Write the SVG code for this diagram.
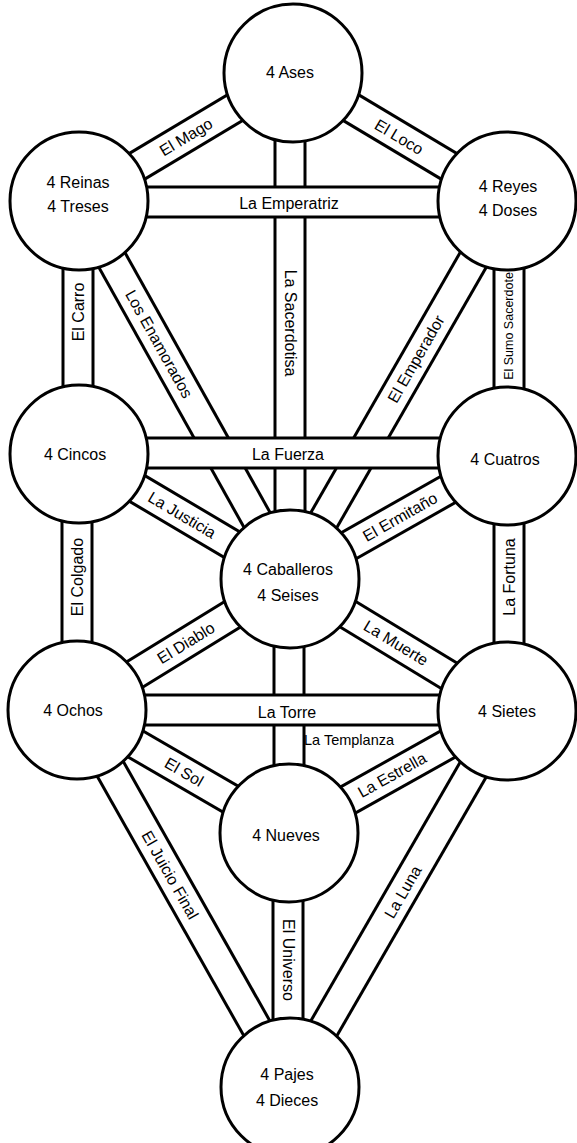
<svg xmlns="http://www.w3.org/2000/svg" width="577" height="1143" viewBox="0 0 577 1143">
<style>
.bo{stroke:#000;stroke-width:33;fill:none}
.bi{stroke:#fff;stroke-width:27;fill:none}
.node circle{fill:#fff;stroke:#000;stroke-width:3}
text{font-family:"Liberation Sans",Arial,sans-serif;font-size:16px;fill:#000;text-anchor:middle;dominant-baseline:central}
.small{font-size:12.5px}
.tp{font-size:14.5px;text-anchor:start}
</style>
<rect width="577" height="1143" fill="#fff"/>
<g id="connectors">
  <g id="p-mago"><line class="bo" x1="79" y1="201" x2="293" y2="73"/><line class="bi" x1="79" y1="201" x2="293" y2="73"/><text x="186" y="137" transform="rotate(-31 186 137)">El Mago</text></g>
  <g id="p-loco"><line class="bo" x1="293" y1="73" x2="507" y2="201"/><line class="bi" x1="293" y1="73" x2="507" y2="201"/><text x="399" y="137" transform="rotate(30.8 399 137)">El Loco</text></g>
  <g id="p-sacerdotisa"><line class="bo" x1="290" y1="73" x2="290" y2="579"/><line class="bi" x1="290" y1="73" x2="290" y2="579"/><text x="290" y="323" transform="rotate(90 290 323)">La Sacerdotisa</text></g>
  <g id="p-sumo"><line class="bo" x1="509" y1="201" x2="509" y2="456"/><line class="bi" x1="509" y1="201" x2="509" y2="456"/><text class="small" x="509" y="326" transform="rotate(-90 509 326)">El Sumo Sacerdote</text></g>
  <g id="p-emperador"><line class="bo" x1="507" y1="201" x2="290" y2="579"/><line class="bi" x1="507" y1="201" x2="290" y2="579"/><text x="416" y="359" transform="rotate(-60.1 416 359)">El Emperador</text></g>
  <g id="p-enamorados"><line class="bo" x1="79" y1="201" x2="290" y2="579"/><line class="bi" x1="79" y1="201" x2="290" y2="579"/><text x="159" y="344" transform="rotate(60.8 159 344)">Los Enamorados</text></g>
  <g id="p-carro"><line class="bo" x1="78" y1="201" x2="78" y2="454"/><line class="bi" x1="78" y1="201" x2="78" y2="454"/><text x="78" y="312" transform="rotate(-90 78 312)">El Carro</text></g>
  <g id="p-justicia"><line class="bo" x1="79" y1="454" x2="290" y2="579"/><line class="bi" x1="79" y1="454" x2="290" y2="579"/><text x="182" y="515" transform="rotate(30.6 182 515)">La Justicia</text></g>
  <g id="p-ermitano"><line class="bo" x1="507" y1="456" x2="290" y2="579"/><line class="bi" x1="507" y1="456" x2="290" y2="579"/><text x="400" y="517" transform="rotate(-29.5 400 517)">El Ermitaño</text></g>
  <g id="p-fortuna"><line class="bo" x1="509" y1="456" x2="509" y2="711"/><line class="bi" x1="509" y1="456" x2="509" y2="711"/><text x="509" y="577" transform="rotate(-90 509 577)">La Fortuna</text></g>
  <g id="p-colgado"><line class="bo" x1="77" y1="454" x2="77" y2="710"/><line class="bi" x1="77" y1="454" x2="77" y2="710"/><text x="77" y="577" transform="rotate(-90 77 577)">El Colgado</text></g>
  <g id="p-diablo"><line class="bo" x1="77" y1="710" x2="290" y2="579"/><line class="bi" x1="77" y1="710" x2="290" y2="579"/><text x="186" y="643" transform="rotate(-31.6 186 643)">El Diablo</text></g>
  <g id="p-muerte"><line class="bo" x1="290" y1="579" x2="507" y2="711"/><line class="bi" x1="290" y1="579" x2="507" y2="711"/><text x="396" y="643" transform="rotate(31.3 396 643)">La Muerte</text></g>
  <g id="p-templanza"><line class="bo" x1="289" y1="579" x2="289" y2="833"/><line class="bi" x1="289" y1="579" x2="289" y2="833"/></g>
  <g id="p-sol"><line class="bo" x1="77" y1="710" x2="289" y2="833"/><line class="bi" x1="77" y1="710" x2="289" y2="833"/><text x="184" y="772" transform="rotate(30.1 184 772)">El Sol</text></g>
  <g id="p-estrella"><line class="bo" x1="289" y1="833" x2="507" y2="711"/><line class="bi" x1="289" y1="833" x2="507" y2="711"/><text x="392" y="775" transform="rotate(-29.2 392 775)">La Estrella</text></g>
  <g id="p-juicio"><line class="bo" x1="77" y1="710" x2="290" y2="1087"/><line class="bi" x1="77" y1="710" x2="290" y2="1087"/><text x="170" y="875" transform="rotate(60.5 170 875)">El Juicio Final</text></g>
  <g id="p-luna"><line class="bo" x1="507" y1="711" x2="290" y2="1087"/><line class="bi" x1="507" y1="711" x2="290" y2="1087"/><text x="403" y="892" transform="rotate(-60 403 892)">La Luna</text></g>
  <g id="p-universo"><line class="bo" x1="288" y1="833" x2="288" y2="1087"/><line class="bi" x1="288" y1="833" x2="288" y2="1087"/><text x="288" y="960" transform="rotate(90 288 960)">El Universo</text></g>
  <g id="p-emperatriz"><line class="bo" x1="79" y1="202" x2="507" y2="202"/><line class="bi" x1="79" y1="202" x2="507" y2="202"/><text x="289" y="203">La Emperatriz</text></g>
  <g id="p-fuerza"><line class="bo" x1="79" y1="453" x2="507" y2="453"/><line class="bi" x1="79" y1="453" x2="507" y2="453"/><text x="288" y="454">La Fuerza</text></g>
  <g id="p-torre"><line class="bo" x1="77" y1="710" x2="507" y2="710"/><line class="bi" x1="77" y1="710" x2="507" y2="710"/><text x="287" y="712">La Torre</text></g>
  <text class="tp" x="304" y="740">La Templanza</text>
</g>
<g id="n-ases" class="node"><circle cx="293" cy="73" r="69"/><text x="290" y="72">4 Ases</text></g>
<g id="n-reinas" class="node"><circle cx="79" cy="201" r="69"/><text x="78" y="182">4 Reinas</text><text x="78" y="206">4 Treses</text></g>
<g id="n-reyes" class="node"><circle cx="507" cy="201" r="69"/><text x="508" y="186">4 Reyes</text><text x="508" y="210">4 Doses</text></g>
<g id="n-cincos" class="node"><circle cx="79" cy="454" r="69"/><text x="75" y="454">4 Cincos</text></g>
<g id="n-cuatros" class="node"><circle cx="507" cy="456" r="69"/><text x="505" y="459">4 Cuatros</text></g>
<g id="n-caballeros" class="node"><circle cx="290" cy="579" r="69"/><text x="288" y="569">4 Caballeros</text><text x="288" y="595">4 Seises</text></g>
<g id="n-ochos" class="node"><circle cx="77" cy="710" r="69"/><text x="73" y="710">4 Ochos</text></g>
<g id="n-sietes" class="node"><circle cx="507" cy="711" r="69"/><text x="507" y="711">4 Sietes</text></g>
<g id="n-nueves" class="node"><circle cx="289" cy="833" r="69"/><text x="286" y="835">4 Nueves</text></g>
<g id="n-pajes" class="node"><circle cx="290" cy="1087" r="69"/><text x="287" y="1074">4 Pajes</text><text x="287" y="1100">4 Dieces</text></g>
</svg>
